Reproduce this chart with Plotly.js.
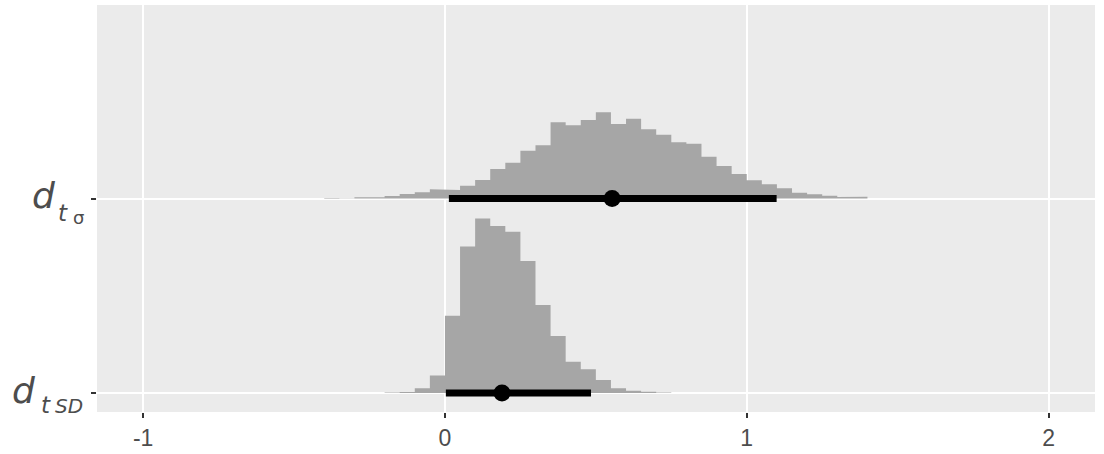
<!DOCTYPE html>
<html>
<head>
<meta charset="utf-8">
<script src="https://cdn.plot.ly/plotly-3.0.1.min.js"></script>
<style>
  html, body { margin: 0; padding: 0; background: #ffffff; }
  #chart { width: 1104px; height: 454px; }
</style>
</head>
<body>
<div id="chart"></div>
<script>
// ---- data ----
var rowNames = ['d_t_sigma', 'd_t_SD'];      // bottom row = d_t_SD (0), top row = d_t_sigma (1)
var binWidth = 0.05;

// d_{t_sigma}: histogram slab (lower bin edges and relative heights)
var sigmaBinStart = [-0.40,-0.35,-0.30,-0.25,-0.20,-0.15,-0.10,-0.05,0.00,0.05,0.10,0.15,0.20,0.25,0.30,0.35,0.40,0.45,0.50,0.55,0.60,0.65,0.70,0.75,0.80,0.85,0.90,0.95,1.00,1.05,1.10,1.15,1.20,1.25,1.30,1.35];
var sigmaHeight   = [0.5,0.3,1.2,1.3,2.5,4.6,6.3,9.2,8.5,12.8,18.5,29.5,35.8,47.8,53.2,76.2,73.3,78.5,86.2,74.5,79.8,69.2,63.8,56.2,54.8,41.8,32.5,24.5,18.2,14.2,10.2,5.8,4.2,2.8,1.5,1.8];
var sigmaInterval = [0.013, 1.099];
var sigmaPoint    = 0.554;

// d_{t_SD}: histogram slab
var sdBinStart = [-0.20,-0.15,-0.10,-0.05,0.00,0.05,0.10,0.15,0.20,0.25,0.30,0.35,0.40,0.45,0.50,0.55,0.60,0.65,0.70];
var sdHeight   = [0.5,1.0,4.8,17.5,77.2,146.4,174.6,167.0,161.2,132.0,88.0,57.0,31.3,23.7,13.0,4.7,2.2,1.2,0.6];
var sdInterval = [0.003, 0.484];
var sdPoint    = 0.189;

var xTickVals = [-1, 0, 1, 2];
var xTickText = ['-1', '0', '1', '2'];

// ---- build ----
var heightScale = 1 / 194.5;   // relative heights -> row units

function slabPolygon(starts, heights, base) {
  var xs = [], ys = [];
  xs.push(starts[0]); ys.push(base);
  for (var i = 0; i < starts.length; i++) {
    var top = base + heights[i] * heightScale;
    xs.push(starts[i]); ys.push(top);
    xs.push(starts[i] + binWidth); ys.push(top);
  }
  xs.push(starts[starts.length - 1] + binWidth); ys.push(base);
  xs.push(starts[0]); ys.push(base);
  return {x: xs, y: ys};
}

var pSigma = slabPolygon(sigmaBinStart, sigmaHeight, 1);
var pSD = slabPolygon(sdBinStart, sdHeight, 0);

var slabColor = '#A6A6A6';
var traces = [
  {x: pSigma.x, y: pSigma.y, type: 'scatter', mode: 'lines', fill: 'toself',
   fillcolor: slabColor, line: {width: 0, color: slabColor}, hoverinfo: 'skip', showlegend: false},
  {x: pSD.x, y: pSD.y, type: 'scatter', mode: 'lines', fill: 'toself',
   fillcolor: slabColor, line: {width: 0, color: slabColor}, hoverinfo: 'skip', showlegend: false},
  {x: sigmaInterval, y: [1, 1], type: 'scatter', mode: 'lines',
   line: {color: '#000000', width: 7}, showlegend: false},
  {x: sdInterval, y: [0, 0], type: 'scatter', mode: 'lines',
   line: {color: '#000000', width: 7}, showlegend: false},
  {x: [sigmaPoint, sdPoint], y: [1, 0], type: 'scatter', mode: 'markers',
   marker: {color: '#000000', size: 17}, showlegend: false}
];

// y labels built from separate text pieces (d, subscript t, sub-subscript)
var W = 1104, H = 454, L = 97, R = 9, T = 5, B = 42;
var pw = W - L - R, ph = H - T - B;
function px2paperX(px) { return (px - L) / pw; }
function px2paperY(py) { return (H - B - py) / ph; }
var txtColor = '#4D4D4D';
var fam = 'Liberation Sans, Arial, sans-serif';
var labFam = 'DejaVu Sans, sans-serif';
function ann(text, px, py, size, italic) {
  return {text: italic ? '<i>' + text + '</i>' : text, xref: 'paper', yref: 'paper',
    x: px2paperX(px), y: px2paperY(py), xanchor: 'left', yanchor: 'middle',
    showarrow: false, borderpad: 0, font: {family: labFam, size: size, color: txtColor}};
}
var annotations = [
  ann('d', 31, 195, 36, true),
  ann('t', 57, 213, 23, true),
  ann('σ', 72, 217, 18, false),
  ann('d', 11, 390, 36, true),
  ann('t', 40, 404.5, 23, true),
  ann('SD', 54, 405.5, 20, true)
];

var layout = {
  width: W, height: H,
  margin: {l: L, r: R, t: T, b: B, pad: 0},
  paper_bgcolor: '#FFFFFF',
  plot_bgcolor: '#EBEBEB',
  showlegend: false,
  xaxis: {
    range: [-1.153, 2.154], tickvals: xTickVals, ticktext: xTickText,
    showgrid: true, gridcolor: '#FFFFFF', gridwidth: 2, zeroline: false,
    ticks: 'outside', ticklen: 5, tickwidth: 2, tickcolor: '#333333',
    tickfont: {family: fam, size: 23, color: txtColor}, showline: false, fixedrange: true
  },
  yaxis: {
    range: [-0.0977, 1.995], tickvals: [0, 1], ticktext: ['', ''],
    showgrid: true, gridcolor: '#FFFFFF', gridwidth: 2, zeroline: false,
    ticks: 'outside', ticklen: 5, tickwidth: 2, tickcolor: '#333333',
    showline: false, fixedrange: true
  },
  annotations: annotations
};

Plotly.newPlot('chart', traces, layout, {staticPlot: true, displayModeBar: false});
</script>
</body>
</html>
